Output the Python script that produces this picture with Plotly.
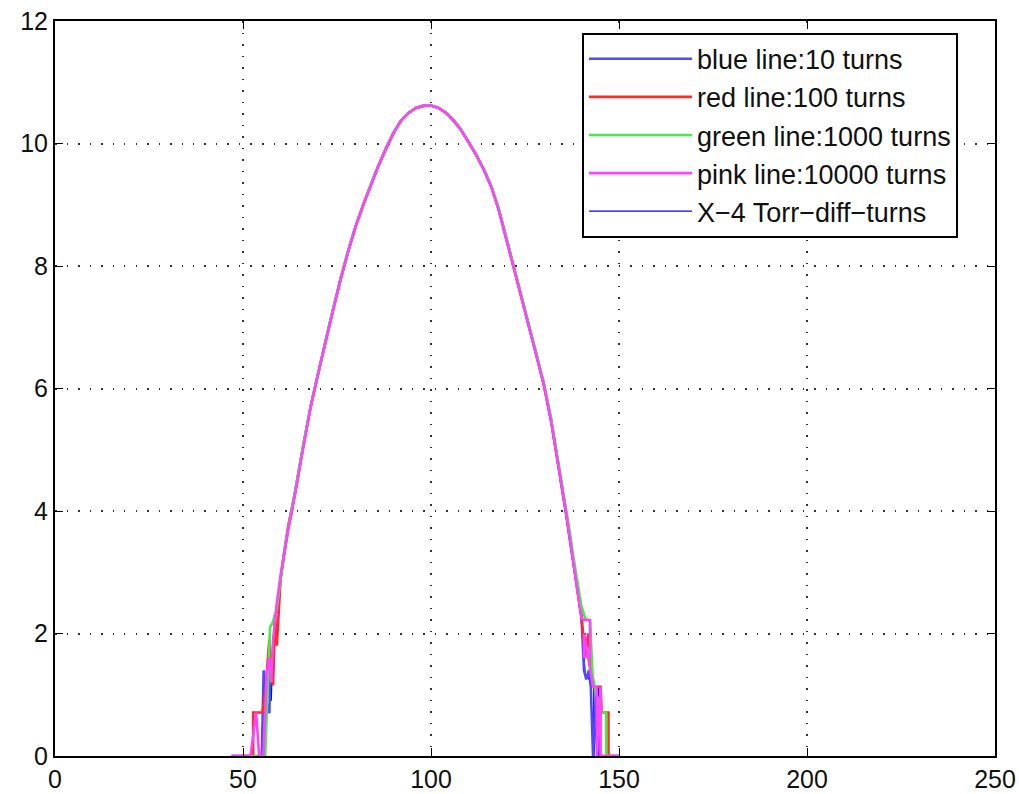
import plotly.graph_objects as go

# ---- data ----
x_core = [64, 66, 68, 70, 72, 74, 76, 78, 80, 82, 84, 86, 88, 90, 92, 94, 96, 98, 100,
          102, 104, 106, 108, 110, 112, 114, 116, 118, 120, 122, 124, 126, 128, 130, 132, 134]

blue_x_left = [47, 50, 52, 54, 55, 55.5, 56, 57, 57.3, 58, 58.5, 59, 60, 61, 62, 63]
blue_y_left = [0, 0, 0, 0, 0, 1.4, 0.9, 0.7, 1.5, 1.4, 2.3, 2.35, 2.9, 3.3, 3.7, 4.0]
blue_y_core = [4.36, 5.06, 5.7, 6.26, 6.79, 7.31, 7.8, 8.25, 8.66, 9.0, 9.33, 9.64, 9.92, 10.17, 10.37,
               10.5, 10.58, 10.62, 10.62, 10.58, 10.5, 10.38, 10.22, 10.03, 9.82, 9.58, 9.3, 8.92,
               8.46, 7.98, 7.5, 7.02, 6.55, 6.07, 5.45, 4.71]
blue_x_right = [135, 136, 137, 138, 139, 140, 140.7, 141.3, 142, 142.5, 143.1, 144.0, 144.9, 147, 150]
blue_y_right = [4.3, 3.92, 3.5, 3.1, 2.7, 2.3, 1.4, 1.25, 1.4, 1.13, 0, 1.13, 0, 0, 0]

red_x_left = [47, 50, 52.7, 52.7, 55.2, 56, 57, 58, 58.5, 59, 60, 61, 62, 63]
red_y_left = [0, 0, 0, 0.71, 0.71, 1.1, 1.9, 1.15, 2.3, 1.8, 2.9, 3.35, 3.75, 4.05]
red_y_core = [4.34, 5.05, 5.71, 6.25, 6.78, 7.3, 7.81, 8.24, 8.65, 9.01, 9.33, 9.63, 9.92, 10.17, 10.37,
              10.5, 10.58, 10.61, 10.62, 10.58, 10.5, 10.37, 10.22, 10.03, 9.81, 9.58, 9.3, 8.93,
              8.46, 7.97, 7.5, 7.03, 6.56, 6.06, 5.46, 4.73]
red_x_right = [135, 136, 137, 138, 139, 140, 141, 141.8, 142.5, 143.1, 145.1, 145.4, 147.2, 147.2, 150]
red_y_right = [4.3, 3.95, 3.55, 3.1, 2.7, 2.3, 1.62, 2.0, 1.5, 1.13, 1.13, 0.71, 0.71, 0, 0]

green_x_left = [47, 50, 52, 54, 55.9, 57.2, 58, 59, 60, 61, 62, 63]
green_y_left = [0, 0, 0, 0, 0, 2.1, 2.2, 2.4, 2.85, 3.35, 3.7, 4.05]
green_y_core = [4.37, 5.07, 5.71, 6.26, 6.79, 7.31, 7.8, 8.26, 8.65, 9.0, 9.34, 9.63, 9.93, 10.17, 10.37,
                10.5, 10.58, 10.62, 10.62, 10.58, 10.5, 10.38, 10.22, 10.03, 9.82, 9.59, 9.31, 8.94,
                8.48, 8.0, 7.53, 7.05, 6.58, 6.1, 5.5, 4.77]
green_x_right = [135, 136, 137, 138, 139, 140, 141, 142.3, 143, 144, 145, 145.4, 146.6, 146.6, 150]
green_y_right = [4.36, 4.0, 3.62, 3.2, 2.8, 2.45, 2.25, 2.2, 1.3, 1.0, 0.8, 0.71, 0.71, 0, 0]

pink_x_left = [47, 50, 52, 53.5, 54.3, 55.4, 56.3, 57, 57.5, 58, 58.5, 59, 60, 61, 62, 63]
pink_y_left = [0, 0, 0, 0.71, 0, 0, 1.35, 1.6, 1.2, 1.9, 2.2, 2.5, 2.95, 3.35, 3.7, 4.0]
pink_y_core = [4.35, 5.05, 5.7, 6.25, 6.78, 7.3, 7.8, 8.25, 8.65, 9.0, 9.33, 9.63, 9.92, 10.17, 10.37,
               10.5, 10.58, 10.62, 10.62, 10.58, 10.5, 10.38, 10.22, 10.03, 9.82, 9.58, 9.3, 8.92,
               8.46, 7.98, 7.5, 7.02, 6.55, 6.07, 5.45, 4.72]
pink_x_right = [135, 136, 137, 138, 139, 140, 140.7, 142.3, 142.3, 140.7, 140.7, 143.1, 144.1, 144.1, 145.1, 145.1, 150]
pink_y_right = [4.32, 3.95, 3.52, 3.1, 2.65, 2.25, 2.22, 2.22, 1.62, 1.62, 2.0, 1.13, 1.13, 0, 1.13, 0, 0]

x4_x_left = [47, 50, 52, 54, 55.5, 56, 57, 57.5, 58, 58.5, 59, 60, 61, 62, 63]
x4_y_left = [0, 0, 0, 0, 0, 1.0, 1.3, 0.9, 1.8, 2.2, 2.5, 2.9, 3.3, 3.7, 4.0]
x4_y_core = [4.35, 5.05, 5.7, 6.25, 6.78, 7.3, 7.8, 8.25, 8.65, 9.0, 9.33, 9.63, 9.92, 10.17, 10.37,
             10.5, 10.58, 10.62, 10.62, 10.58, 10.5, 10.38, 10.22, 10.03, 9.82, 9.58, 9.3, 8.92,
             8.46, 7.98, 7.5, 7.02, 6.54, 6.05, 5.43, 4.69]
x4_x_right = [135, 136, 137, 138, 139, 140, 141, 141.5, 142.5, 143.3, 143.3, 144.6, 144.6, 146, 150]
x4_y_right = [4.28, 3.9, 3.48, 3.05, 2.6, 2.2, 1.35, 1.3, 1.2, 1.13, 0, 1.13, 0, 0, 0]

names = ["blue line:10 turns", "red line:100 turns", "green line:1000 turns",
         "pink line:10000 turns", "X\u22124 Torr\u2212diff\u2212turns"]
colors = ["#4a4aff", "#ff2a2a", "#44ee44", "#ff44ff", "#0000ee"]
widths = [2.6, 2.6, 2.6, 2.6, 1.3]

series = [
    (blue_x_left, blue_y_left, blue_y_core, blue_x_right, blue_y_right),
    (red_x_left, red_y_left, red_y_core, red_x_right, red_y_right),
    (green_x_left, green_y_left, green_y_core, green_x_right, green_y_right),
    (pink_x_left, pink_y_left, pink_y_core, pink_x_right, pink_y_right),
    (x4_x_left, x4_y_left, x4_y_core, x4_x_right, x4_y_right),
]

# drawing order: dark-blue X-4 underneath, pink on top (legend order kept via legendrank)
draw_order = [4, 0, 1, 2, 3]

fig = go.Figure()
for i in draw_order:
    xl, yl, yc, xr, yr = series[i]
    fig.add_trace(go.Scatter(
        x=xl + x_core + xr, y=yl + yc + yr, mode="lines", name=names[i],
        legendgroup=f"g{i}", legendrank=i + 1,
        line=dict(color=colors[i], width=widths[i]),
    ))

font_family = "Liberation Sans, Arial, Helvetica, sans-serif"
axis_common = dict(
    showline=True, linecolor="black", linewidth=2, mirror="ticks",
    ticks="inside", ticklen=8, tickwidth=1, tickcolor="black",
    showgrid=True, gridcolor="#333333", gridwidth=1.5, griddash="1.5px,10px",
    zeroline=False, automargin=False,
    tickfont=dict(family=font_family, size=25, color="#111111"),
)
fig.update_xaxes(range=[0, 250], tickvals=[0, 50, 100, 150, 200, 250], **axis_common)
fig.update_yaxes(range=[0, 12], tickvals=[0, 2, 4, 6, 8, 10, 12], ticklabelstandoff=0, **axis_common)

fig.update_layout(
    width=1019, height=794,
    margin=dict(l=55, r=24, t=21, b=38),
    paper_bgcolor="white", plot_bgcolor="white",
    font=dict(family=font_family, color="#111111"),
    legend=dict(
        x=0.5606, y=0.984, xanchor="left", yanchor="top",
        bordercolor="black", borderwidth=2, bgcolor="white",
        font=dict(family=font_family, size=27, color="#111111"),
        tracegroupgap=0, itemwidth=103,
    ),
    showlegend=True,
)

fig.write_html("out.html", config={"displayModeBar": False},
               post_script="document.body.style.margin='0';")
